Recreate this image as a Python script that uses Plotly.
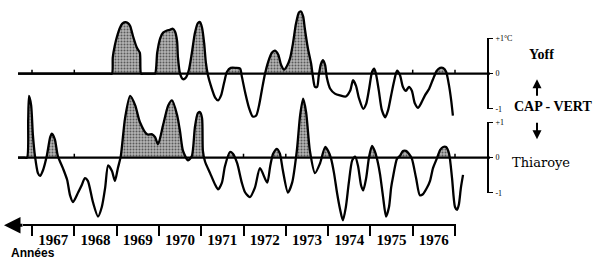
import plotly.graph_objects as go

# ---------------- data (years as decimal, anomalies in °C) ----------------
yoff_t = [1966.67, 1968.80, 1968.89, 1968.91, 1968.96, 1969.01, 1969.08, 1969.13, 1969.20, 1969.27, 1969.32,
          1969.39, 1969.48, 1969.55, 1969.58, 1969.65, 1969.85, 1969.91, 1969.96, 1970.03, 1970.10, 1970.19, 1970.26,
          1970.33, 1970.38, 1970.43, 1970.45, 1970.50, 1970.57, 1970.64, 1970.71, 1970.78, 1970.85,
          1970.92, 1970.97, 1971.02, 1971.07, 1971.11, 1971.16, 1971.23, 1971.33, 1971.40, 1971.47,
          1971.54, 1971.61, 1971.70, 1971.82, 1971.92, 1971.96, 1972.04, 1972.13, 1972.22, 1972.30,
          1972.37, 1972.44, 1972.51, 1972.58, 1972.67, 1972.74, 1972.82, 1972.89, 1972.96, 1973.03,
          1973.10, 1973.17, 1973.24, 1973.31, 1973.36, 1973.41, 1973.45, 1973.52, 1973.60, 1973.64,
          1973.69, 1973.74, 1973.78, 1973.83, 1973.88, 1973.93, 1973.97, 1974.05, 1974.16, 1974.28,
          1974.42, 1974.52, 1974.59, 1974.66, 1974.73, 1974.83, 1974.90, 1974.97, 1975.04, 1975.09,
          1975.13, 1975.20, 1975.27, 1975.35, 1975.42, 1975.49, 1975.56, 1975.63, 1975.70, 1975.77,
          1975.84, 1975.91, 1975.98, 1976.05, 1976.13, 1976.20, 1976.29, 1976.39, 1976.48, 1976.57,
          1976.65, 1976.72, 1976.79, 1976.86, 1976.91, 1976.95]
yoff_v = [0, 0, 0, 0.46, 0.81, 1.05, 1.30, 1.41, 1.46, 1.43, 1.35,
          1.05, 0.73, 0.59, 0, 0, 0, 0, 0.59, 1.00, 1.16, 1.22, 1.24,
          1.27, 1.19, 0.92, 0.46, 0, -0.16, -0.11, 0.11, 0.59, 1.14,
          1.43, 1.46, 1.30, 0.86, 0.32, -0.05, -0.35, -0.68, -0.76, -0.62,
          -0.27, 0.05, 0.16, 0.16, 0.14, -0.08, -0.54, -0.97, -1.22, -1.19,
          -0.89, -0.43, 0, 0.32, 0.59, 0.65, 0.54, 0.24, 0.11, 0.22,
          0.43, 0.86, 1.41, 1.73, 1.76, 1.62, 1.27, 0.73, 0.27, -0.08,
          -0.38, -0.38, -0.05, 0.27, 0.38, 0.24, -0.11, -0.43, -0.57, -0.62,
          -0.65, -0.49, -0.19, -0.35, -0.70, -1.00, -0.86, -0.43, 0.05, 0.14,
          0, -0.49, -1.03, -1.24, -1.03, -0.62, -0.22, 0.08, -0.05, -0.38,
          -0.49, -0.38, -0.49, -0.84, -0.97, -0.84, -0.62, -0.43, -0.16, 0.08,
          0.16, 0.16, 0.05, -0.35, -0.76, -1.19]

thia_t = [1966.67, 1966.80, 1966.88, 1966.91, 1966.93, 1966.98, 1967.02, 1967.07, 1967.14, 1967.19, 1967.26,
          1967.35, 1967.43, 1967.47, 1967.54, 1967.61, 1967.73, 1967.83, 1967.90, 1967.97, 1968.09,
          1968.18, 1968.25, 1968.32, 1968.44, 1968.56, 1968.65, 1968.73, 1968.80, 1968.89, 1968.96,
          1969.03, 1969.10, 1969.20, 1969.32, 1969.44, 1969.55, 1969.72, 1969.84, 1969.91, 1969.98,
          1970.10, 1970.22, 1970.31, 1970.43, 1970.50, 1970.57, 1970.69, 1970.78, 1970.85, 1970.92,
          1970.97, 1971.02, 1971.04, 1971.09, 1971.21, 1971.33, 1971.40, 1971.49, 1971.56, 1971.68,
          1971.75, 1971.85, 1971.96, 1972.04, 1972.15, 1972.27, 1972.39, 1972.56, 1972.63, 1972.70,
          1972.79, 1972.86, 1972.93, 1973.05, 1973.15, 1973.26, 1973.34, 1973.41, 1973.48, 1973.57,
          1973.69, 1973.81, 1973.93, 1974.00, 1974.07, 1974.14, 1974.21, 1974.28, 1974.35, 1974.42,
          1974.49, 1974.57, 1974.64, 1974.71, 1974.78, 1974.83, 1974.90, 1974.97, 1975.04, 1975.11,
          1975.18, 1975.23, 1975.30, 1975.37, 1975.44, 1975.49, 1975.53, 1975.63, 1975.70, 1975.77,
          1975.84, 1975.91, 1975.98, 1976.08, 1976.17, 1976.24, 1976.34, 1976.41, 1976.48, 1976.57,
          1976.65, 1976.72, 1976.79, 1976.86, 1976.93, 1977.00, 1977.05, 1977.09, 1977.14, 1977.19]
thia_v = [0, 0, 0, 1.07, 1.75, 1.48, 0.66, 0.05, -0.44, -0.52, -0.36,
          0.05, 0.58, 0.68, 0.52, 0.05, -0.30, -0.63, -1.07, -1.26, -0.99,
          -0.77, -0.58, -0.66, -1.26, -1.67, -1.40, -0.85, -0.22, -0.38, -0.66,
          -0.30, 0.05, 1.12, 1.75, 1.48, 1.01, 0.66, 0.66, 0.58, 0.38,
          0.93, 1.48, 1.62, 1.21, 0.74, 0.19, -0.08, 0.05, 0.85, 1.26,
          1.29, 1.12, 0.19, -0.11, -0.44, -0.77, -0.90, -0.71, -0.25, 0.16,
          0.11, -0.16, -0.71, -0.99, -1.12, -0.85, -0.30, -0.71, -0.25, 0.11,
          0.25, 0.11, -0.36, -0.99, -0.71, 0.19, 1.21, 1.67, 1.29, 0.19,
          -0.44, -0.16, 0.30, 0.19, -0.03, -0.44, -0.99, -1.45, -1.78, -1.40,
          -0.71, -0.08, 0.03, -0.25, -0.79, -0.93, -0.58, 0.03, 0.33, 0.16,
          -0.16, -0.49, -1.12, -1.67, -1.40, -0.85, -0.58, -0.03, 0.05, 0.19,
          0.19, 0.11, -0.03, -0.58, -1.07, -1.04, -0.85, -0.66, -0.30, -0.03,
          0.22, 0.30, 0.30, 0.11, -0.58, -1.40, -1.48, -1.34, -0.85, -0.49]

years = list(range(1967, 1978))
year_labels = [str(y) for y in range(1967, 1977)]
station_top = "Yoff"
station_bottom = "Thiaroye"
region = "CAP - VERT"
axis_title = "Années"

# ---------------- geometry ----------------
W, H = 599, 265
PX_PER_YEAR = 42.3
X0 = 1967 - 32 / PX_PER_YEAR
X1 = X0 + W / PX_PER_YEAR
TOP_ZERO, TOP_SCALE = 72, 36.5      # pixel of zero line, px per °C
BOT_ZERO, BOT_SCALE = 159, 36.5
AXIS_Y = 229
RIGHT_AX_X = 488


def positive_part(t, v):
    xs, ys = [], []
    for i in range(len(t)):
        if i > 0 and ((v[i - 1] < 0 < v[i]) or (v[i - 1] > 0 > v[i])):
            tc = t[i - 1] + (t[i] - t[i - 1]) * (0 - v[i - 1]) / (v[i] - v[i - 1])
            xs.append(tc)
            ys.append(0)
        xs.append(t[i])
        ys.append(max(v[i], 0))
    return xs, ys


fig = go.Figure()
pattern = dict(shape=".", fgcolor="black", bgcolor="#b4b4b4", size=3, solidity=0.35)

for t, v, ya in [(yoff_t, yoff_v, "y"), (thia_t, thia_v, "y2")]:
    px_, py_ = positive_part(t, v)
    fig.add_trace(go.Scatter(x=px_, y=py_, xaxis="x", yaxis=ya, mode="lines",
                             line=dict(color="black", width=0, shape="spline", smoothing=0.7),
                             fill="tozeroy", fillcolor="#8a8a8a", fillpattern=pattern,
                             hoverinfo="skip", showlegend=False))
    fig.add_trace(go.Scatter(x=t, y=v, xaxis="x", yaxis=ya, mode="lines",
                             line=dict(color="black", width=2.3, shape="spline", smoothing=0.7),
                             hoverinfo="skip", showlegend=False))

# dummy traces so the decorative axes are drawn
for xa, ya in [("x", "y3"), ("x", "y4"), ("x2", "y")]:
    fig.add_trace(go.Scatter(x=[1970], y=[0], xaxis=xa, yaxis=ya, mode="markers",
                             marker=dict(opacity=0), hoverinfo="skip", showlegend=False))

top_range = [-(H - TOP_ZERO) / TOP_SCALE, TOP_ZERO / TOP_SCALE]
bot_range = [-(H - BOT_ZERO) / BOT_SCALE, BOT_ZERO / BOT_SCALE]


def dom(zero, scale):
    return [(H - (zero + scale)) / H, (H - (zero - scale)) / H]


tickfont = dict(family="Liberation Serif", size=8, color="black")
right_axis = dict(anchor="free", position=RIGHT_AX_X / W, side="right", range=[-1, 1],
                  showline=True, linecolor="black", linewidth=1.6, ticks="outside",
                  ticklen=4, tickwidth=1.4, tickcolor="black", showgrid=False,
                  zeroline=False, tickvals=[-1, 0, 1], tickfont=tickfont,
                  ticklabelstandoff=1)

x2_dom = [23 / W, (455 + 1.3) / W]
x2_range = [1967 - 9 / PX_PER_YEAR, 1977 + 1.3 / PX_PER_YEAR]

fig.update_layout(
    width=W, height=H, margin=dict(l=0, r=0, t=0, b=0),
    paper_bgcolor="white", plot_bgcolor="rgba(0,0,0,0)",
    xaxis=dict(domain=[0, 1], range=[X0, X1], visible=False, showgrid=False),
    yaxis=dict(domain=[0, 1], range=top_range, visible=False, showgrid=False),
    yaxis2=dict(overlaying="y", range=bot_range, visible=False, showgrid=False),
    yaxis3=dict(domain=dom(TOP_ZERO, TOP_SCALE), ticktext=["-1", "0", "+1°C"], **right_axis),
    yaxis4=dict(domain=dom(BOT_ZERO, BOT_SCALE), ticktext=["-1", "0", "+1"], **right_axis),
    xaxis2=dict(domain=x2_dom, range=x2_range, anchor="free", position=(H - AXIS_Y) / H,
                side="bottom", showline=True, linecolor="black", linewidth=2.2,
                showgrid=False, zeroline=False,
                tickvals=[y + 0.5 for y in range(1967, 1977)], ticktext=year_labels,
                ticks="", ticklabelstandoff=1,
                tickfont=dict(family="Liberation Serif", size=15, color="black",
                              weight="bold"),
                minor=dict(tickvals=years, ticks="outside", ticklen=10, tickwidth=2,
                           tickcolor="black", showgrid=False)),
)

# zero lines
xl0 = 1967 + (18 - 32) / PX_PER_YEAR
xl1 = 1967 + (490 - 32) / PX_PER_YEAR
for ya in ["y", "y2"]:
    fig.add_shape(type="line", xref="x", yref=ya, x0=xl0, x1=xl1, y0=0, y1=0,
                  line=dict(color="black", width=2.2))
# small year marks on the zero lines
for yr in [1967, 1968, 1976, 1977]:
    fig.add_shape(type="line", xref="x", yref="y", x0=yr, x1=yr, y0=0, y1=4 / TOP_SCALE,
                  line=dict(color="black", width=1.5))
for yr in [1968, 1972, 1973, 1977]:
    fig.add_shape(type="line", xref="x", yref="y2", x0=yr, x1=yr, y0=0, y1=4 / BOT_SCALE,
                  line=dict(color="black", width=1.5))

# left-pointing arrow on time axis
fig.add_annotation(x=4 / W, y=(H - AXIS_Y) / H, xref="paper", yref="paper", text="",
                   showarrow=True, ax=20, ay=0, arrowhead=2, arrowsize=1.1,
                   arrowwidth=3, arrowcolor="black")


def label(x, y, text, font):
    fig.add_annotation(x=x / W, y=(H - y) / H, xref="paper", yref="paper", text=text,
                       showarrow=False, xanchor="center", yanchor="middle", font=font)


label(33, 258, "<b>" + axis_title + "</b>",
      dict(family="Liberation Sans", size=12, color="black"))
serif_b = dict(family="Liberation Serif", size=14, color="black")
label(541, 52, "<b>" + station_top + "</b>", serif_b)
label(553, 106, "<b>" + region + "</b>", serif_b)
label(541, 164, station_bottom, dict(family="DejaVu Serif", size=13, color="black"))

fig.add_annotation(x=537 / W, y=(H - 78) / H, xref="paper", yref="paper", text="",
                   showarrow=True, ax=0, ay=18, arrowhead=2, arrowsize=0.9,
                   arrowwidth=2, arrowcolor="black")
fig.add_annotation(x=537 / W, y=(H - 140) / H, xref="paper", yref="paper", text="",
                   showarrow=True, ax=0, ay=-18, arrowhead=2, arrowsize=0.9,
                   arrowwidth=2, arrowcolor="black")

fig.write_html("out.html")
